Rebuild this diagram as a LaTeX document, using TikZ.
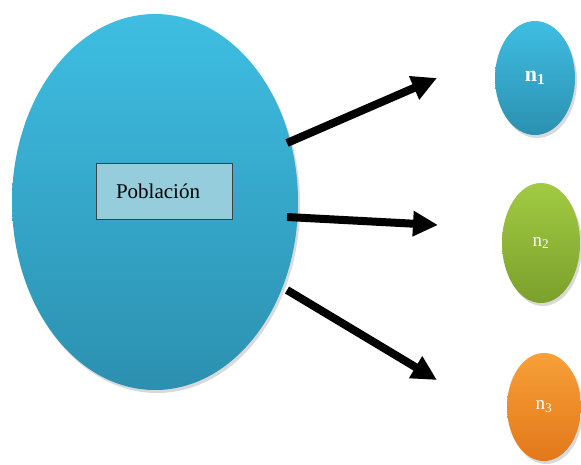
\documentclass[tikz,border=0pt]{standalone}
\usepackage{fontspec}
\setmainfont{Liberation Serif}
\usetikzlibrary{arrows.meta,shapes.geometric,shadows}
\definecolor{azulA}{HTML}{3EBEE2}
\definecolor{azulB}{HTML}{2C90B0}
\definecolor{cajaC}{HTML}{95CDDD}
\definecolor{verdeA}{HTML}{A2CB42}
\definecolor{verdeB}{HTML}{7BA02C}
\definecolor{naranjaA}{HTML}{F7A038}
\definecolor{naranjaB}{HTML}{E2781A}
\begin{document}
\begin{tikzpicture}[x=1pt, y=-1pt,
    ovalo/.style={ellipse, inner sep=0pt, text=white,
      drop shadow={shadow xshift=2pt, shadow yshift=-3pt, opacity=0.3}},
    flecha/.style={line width=8pt, -{Triangle[length=25pt, width=24pt]}}]
    % 1. marco de la figura
    \useasboundingbox (0,0) rectangle (581,464);
    % 2. poblacion (ovalo grande y caja)
    \node[ovalo, minimum width=286pt, minimum height=376pt,
      top color=azulA, bottom color=azulB] (pob) at (155,202) {};
    \node[draw=black!75, fill=cajaC, minimum width=136pt, minimum height=56pt,
      font=\fontsize{21}{24}\selectfont] (caja) at (164,191) {Población\hspace*{12pt}};
    % 3. muestras
    \node[ovalo, minimum width=80pt, minimum height=114pt,
      top color=azulA, bottom color=azulB,
      font=\fontsize{22}{24}\selectfont\bfseries] (n1) at (535,78) {n\textsubscript{1}};
    \node[ovalo, minimum width=78pt, minimum height=120pt,
      top color=verdeA, bottom color=verdeB,
      font=\fontsize{19}{22}\selectfont] (n2) at (541,243) {n\textsubscript{2}};
    \node[ovalo, minimum width=74pt, minimum height=108pt,
      top color=naranjaA, bottom color=naranjaB,
      font=\fontsize{19}{22}\selectfont] (n3) at (544,407) {n\textsubscript{3}};
    % 4. flechas (extremos libres)
    \coordinate (s1) at (287,143);
    \coordinate (t1) at (437,78);
    \coordinate (s2) at (287,217);
    \coordinate (t2) at (438,225);
    \coordinate (s3) at (287,290);
    \coordinate (t3) at (437,380);
    \draw[flecha] (s1) -- (t1);
    \draw[flecha] (s2) -- (t2);
    \draw[flecha] (s3) -- (t3);
\end{tikzpicture}
\end{document}
